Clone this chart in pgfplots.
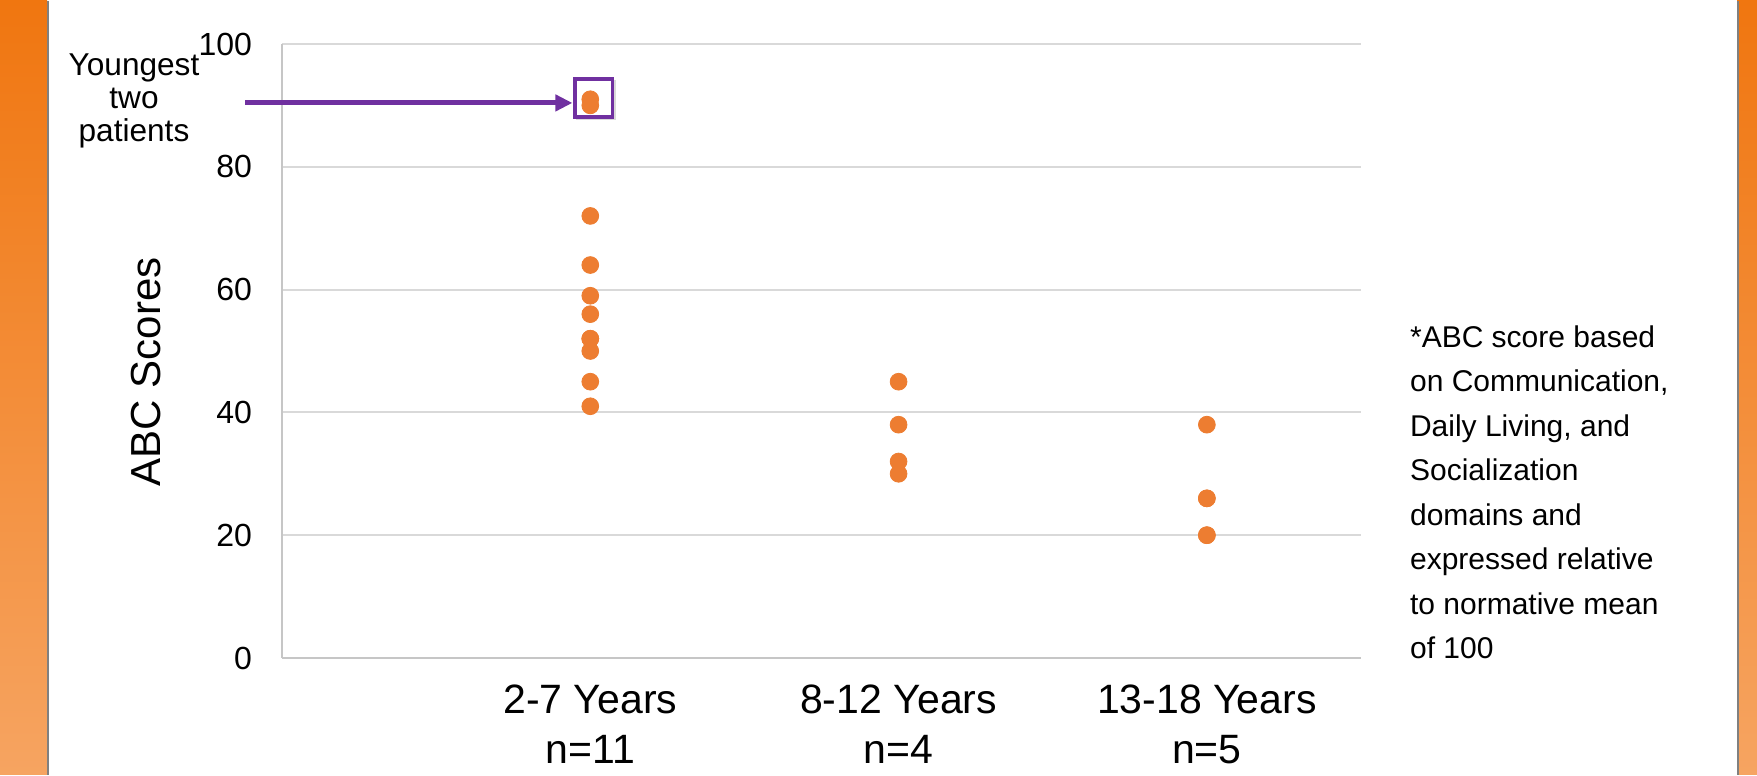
\documentclass[border=0pt]{standalone}
\usepackage{fontspec}
\setmainfont{Liberation Sans}
\usepackage{pgfplots}
\usepackage{pgfplotstable}
\pgfplotsset{compat=1.18}
\usetikzlibrary{arrows.meta}

\definecolor{dotorange}{HTML}{ED7D31}
\definecolor{calloutpurple}{HTML}{7030A0}
\definecolor{bartop}{HTML}{F07610}
\definecolor{barbottom}{HTML}{F6A461}

% ABC scores by age group (x = group index)
\pgfplotstableread{
x y
0 91
0 90
0 72
0 64
0 59
0 56
0 52
0 52
0 50
0 45
0 41
}\groupA
\pgfplotstableread{
x y
1 45
1 38
1 32
1 30
}\groupB
\pgfplotstableread{
x y
2 38
2 26
2 26
2 20
2 20
}\groupC

\begin{document}
\begin{tikzpicture}
% page background and side bands
\fill[white] (0,0) rectangle (878.5pt,387pt);
\shade[top color=bartop,bottom color=barbottom] (0,0) rectangle (23.5pt,387pt);
\draw[gray,line width=1pt] (23.75pt,0) -- (23.75pt,387pt);
\shade[top color=bartop,bottom color=barbottom] (868.5pt,0) rectangle (878.5pt,387pt);
\draw[gray,line width=1pt] (868.75pt,0) -- (868.75pt,387pt);

\begin{axis}[
  at={(141pt,58.5pt)}, anchor=south west,
  scale only axis, width=539.5pt, height=307pt,
  xmin=-1, xmax=2.5, ymin=0, ymax=100,
  xtick={0,1,2},
  xticklabels={{2-7 Years\\n=11},{8-12 Years\\n=4},{13-18 Years\\n=5}},
  xticklabel style={align=center, font=\fontsize{20.5}{25}\selectfont, yshift=-9.8pt},
  ytick={0,20,...,100},
  yticklabel style={font=\fontsize{16}{19}\selectfont, xshift=-11.5pt},
  /pgf/number format/assume math mode=true,
  major tick length=0pt,
  axis lines*=left,
  axis line style={draw=gray!45, line width=1pt},
  ymajorgrids, grid style={gray!30, line width=1pt},
  ylabel={ABC Scores},
  every axis y label/.style={at={(axis description cs:-0.126,0.466)}, rotate=90, anchor=center, font=\fontsize{21}{25}\selectfont},
  clip=false,
]
\addplot[only marks, mark=*, mark size=4.2pt, color=dotorange] table {\groupA};
\addplot[only marks, mark=*, mark size=4.2pt, color=dotorange] table {\groupB};
\addplot[only marks, mark=*, mark size=4.2pt, color=dotorange] table {\groupC};

% callout for the two youngest patients
\draw[gray!30, line width=1.5pt] (axis cs:-0.045,87.9) -- (axis cs:0.078,87.9) -- (axis cs:0.078,94.1);
\draw[calloutpurple, line width=1.7pt] (axis cs:-0.05,88.1) rectangle (axis cs:0.073,94.3);
\draw[calloutpurple, line width=2.5pt, -{Triangle[length=8.5pt,width=8pt]}] (axis cs:-1.12,90.4) -- (axis cs:-0.058,90.4);
\end{axis}

\node[align=center, font=\fontsize{15.8}{16.5}\selectfont] at (67pt,337pt) {Youngest\\two\\patients};
\node[align=left, anchor=west, font=\fontsize{15}{22.25}\selectfont] at (701.5pt,141.25pt)
  {*ABC score based\\on Communication,\\Daily Living, and\\Socialization\\domains and\\expressed relative\\to normative mean\\of 100};
\end{tikzpicture}
\end{document}
